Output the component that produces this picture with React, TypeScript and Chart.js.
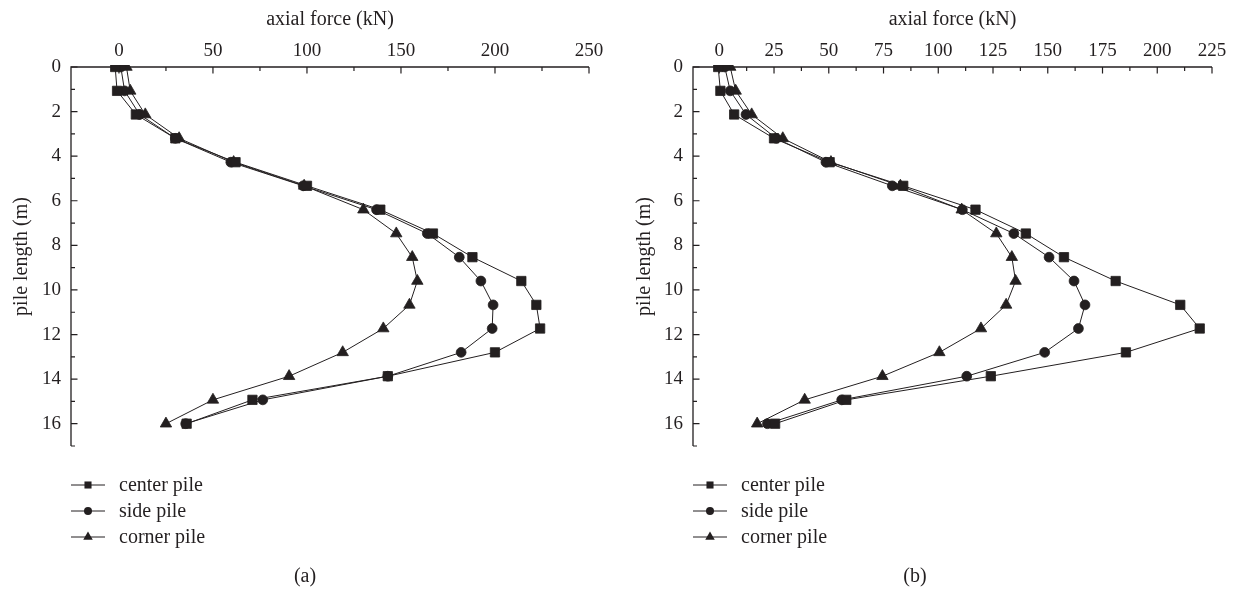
import React, { useEffect, useRef } from 'react';
import { Chart, registerables } from 'chart.js';

Chart.register(...registerables);

// ---------- data ----------
const depths = [0, 1.07, 2.13, 3.2, 4.27, 5.33, 6.4, 7.47, 8.53, 9.6, 10.67, 11.73, 12.8, 13.87, 14.93, 16];

const leftCenter = [-2, -1, 9, 30, 62, 100, 139, 167, 188, 214, 222, 224, 200, 143, 71, 36];
const leftSide = [1, 3, 11, 30, 59.5, 98, 137, 164, 181, 192.5, 199, 198.5, 182, 143, 76.5, 35.5];
const leftCorner = [4, 6, 14, 32, 61, 98.5, 130, 147.5, 156, 158.7, 154.5, 140.6, 119, 90.5, 50, 25];

const rightCenter = [-0.5, 0.5, 6.8, 25, 50.4, 84, 117, 140, 157.4, 181, 210.5, 219.4, 185.7, 124, 58, 25.5];
const rightSide = [2.5, 5, 12.2, 26, 48.7, 79, 111, 134.5, 150.6, 162, 167, 164, 148.6, 113, 55.9, 22];
const rightCorner = [5, 7.5, 14.8, 29, 51, 82.7, 110.7, 126.5, 133.6, 135.3, 131, 119.5, 100.5, 74.5, 39, 17.3];

const seriesNames = ['center pile', 'side pile', 'corner pile'];

const leftXTicks = [0, 50, 100, 150, 200, 250];
const leftXMinor = [25, 75, 125, 175, 225];
const rightXTicks = [0, 25, 50, 75, 100, 125, 150, 175, 200, 225];
const rightXMinor = [12.5, 37.5, 62.5, 87.5, 112.5, 137.5, 162.5, 187.5, 212.5];
const yTicks = [0, 2, 4, 6, 8, 10, 12, 14, 16];
const yMinor = [1, 3, 5, 7, 9, 11, 13, 15, 17];

const xTitle = 'axial force (kN)';
const yTitle = 'pile length (m)';

// ---------- style ----------
const INK = '#231f20';
const FONT = "'Liberation Serif', 'Times New Roman', serif";
const CANVAS_W = 618;
const CANVAS_H = 591;

type PanelCfg = {
  offset: number;
  values: number[][];
  xMin: number;
  xMax: number;
  xTicks: number[];
  xMinor: number[];
  yAxisWidth: number;
  yTitlePad: number;
  rightPad: number;
  caption: string;
  captionX: number;
};

const styles = [
  { pointStyle: 'rect', radius: 6.6, legendR: 5 },
  { pointStyle: 'circle', radius: 4.9, legendR: 4 },
  { pointStyle: 'triangle', radius: 6.6, legendR: 5.5 },
];

function drawMarker(ctx: CanvasRenderingContext2D, style: string, x: number, y: number, r: number) {
  ctx.beginPath();
  if (style === 'rect') {
    const s = Math.SQRT1_2 * r;
    ctx.rect(x - s, y - s, 2 * s, 2 * s);
  } else if (style === 'circle') {
    ctx.arc(x, y, r, 0, Math.PI * 2);
  } else {
    ctx.moveTo(x, y - r);
    ctx.lineTo(x + Math.sin((2 * Math.PI) / 3) * r, y + 0.5 * r);
    ctx.lineTo(x - Math.sin((2 * Math.PI) / 3) * r, y + 0.5 * r);
    ctx.closePath();
  }
  ctx.fill();
}

function makeDecor(cfg: PanelCfg) {
  return {
    id: 'decor',
    beforeDatasetsDraw(chart: any) {
      const { ctx, chartArea: a, scales } = chart;
      const x = scales.x;
      const y = scales.y;
      ctx.save();
      ctx.strokeStyle = INK;
      ctx.lineWidth = 1.3;
      ctx.beginPath();
      ctx.moveTo(a.left, a.bottom);
      ctx.lineTo(a.left, a.top);
      ctx.lineTo(a.right, a.top);
      ctx.stroke();
      ctx.lineWidth = 1.2;
      ctx.beginPath();
      cfg.xTicks.forEach((v) => {
        const px = x.getPixelForValue(v);
        ctx.moveTo(px, a.top);
        ctx.lineTo(px, a.top + 6.5);
      });
      cfg.xMinor.forEach((v) => {
        const px = x.getPixelForValue(v);
        ctx.moveTo(px, a.top);
        ctx.lineTo(px, a.top + 4);
      });
      yTicks.forEach((v) => {
        const py = y.getPixelForValue(v);
        ctx.moveTo(a.left, py);
        ctx.lineTo(a.left + 6.5, py);
      });
      yMinor.forEach((v) => {
        const py = y.getPixelForValue(v);
        ctx.moveTo(a.left, py);
        ctx.lineTo(a.left + 4, py);
      });
      ctx.stroke();
      ctx.restore();
    },
    afterDraw(chart: any) {
      const { ctx, chartArea: a } = chart;
      ctx.save();
      const rows = [485, 511, 537];
      chart.data.datasets.forEach((ds: any, i: number) => {
        const ry = rows[i];
        const x0 = a.left;
        ctx.strokeStyle = INK;
        ctx.lineWidth = 1;
        ctx.beginPath();
        ctx.moveTo(x0, ry);
        ctx.lineTo(x0 + 34, ry);
        ctx.stroke();
        ctx.fillStyle = INK;
        drawMarker(ctx, styles[i].pointStyle, x0 + 17, ry, styles[i].legendR);
        ctx.font = `20px ${FONT}`;
        ctx.textAlign = 'left';
        ctx.textBaseline = 'alphabetic';
        ctx.fillText(ds.label, x0 + 48, ry + 6);
      });
      ctx.font = `20px ${FONT}`;
      ctx.textAlign = 'center';
      ctx.textBaseline = 'alphabetic';
      ctx.fillStyle = INK;
      ctx.fillText(cfg.caption, cfg.captionX, 582);
      ctx.restore();
    },
  };
}

function Panel({ cfg }: { cfg: PanelCfg }) {
  const ref = useRef<HTMLCanvasElement>(null);
  useEffect(() => {
    const canvas = ref.current;
    if (!canvas) return;
    const datasets = cfg.values.map((vals, i) => ({
      label: seriesNames[i],
      data: depths.map((d, k) => ({ x: vals[k], y: d })),
      showLine: true,
      borderColor: INK,
      borderWidth: 1,
      backgroundColor: INK,
      pointBackgroundColor: INK,
      pointBorderColor: INK,
      pointBorderWidth: 0.8,
      pointStyle: styles[i].pointStyle,
      pointRadius: styles[i].radius,
      tension: 0,
      clip: { left: 8, top: 2, right: 8, bottom: 8 },
    }));
    const chart = new Chart(canvas, {
      type: 'scatter',
      data: { datasets },
      options: {
        animation: false,
        responsive: false,
        devicePixelRatio: 1,
        layout: { padding: { left: 0, top: 0, right: cfg.rightPad, bottom: CANVAS_H - 446 } },
        plugins: { legend: { display: false }, tooltip: { enabled: false } },
        scales: {
          x: {
            type: 'linear',
            position: 'top',
            min: cfg.xMin,
            max: cfg.xMax,
            afterBuildTicks: (s: any) => {
              s.ticks = cfg.xTicks.map((v) => ({ value: v }));
            },
            afterFit: (s: any) => {
              s.height = 67;
            },
            grid: { display: false, drawTicks: false },
            border: { display: false },
            ticks: {
              color: INK,
              font: { family: FONT, size: 19 },
              padding: 5,
              maxRotation: 0,
              autoSkip: false,
              callback: (v: any) => String(v),
            },
            title: {
              display: true,
              text: xTitle,
              color: INK,
              font: { family: FONT, size: 20 },
              padding: { top: 8, bottom: 0 },
            },
          },
          y: {
            type: 'linear',
            reverse: true,
            min: 0,
            max: 17,
            afterBuildTicks: (s: any) => {
              s.ticks = yTicks.map((v) => ({ value: v }));
            },
            afterFit: (s: any) => {
              s.width = cfg.yAxisWidth;
            },
            grid: { display: false, drawTicks: false },
            border: { display: false },
            ticks: {
              color: INK,
              font: { family: FONT, size: 19 },
              padding: 10,
              autoSkip: false,
              callback: (v: any) => String(v),
            },
            title: {
              display: true,
              text: yTitle,
              color: INK,
              font: { family: FONT, size: 20 },
              padding: { top: cfg.yTitlePad, bottom: 0 },
            },
          },
        },
      } as any,
      plugins: [makeDecor(cfg)],
    });
    return () => chart.destroy();
  }, [cfg]);
  return (
    <canvas
      ref={ref}
      width={CANVAS_W}
      height={CANVAS_H}
      style={{ position: 'absolute', left: cfg.offset, top: 0, width: CANVAS_W, height: CANVAS_H }}
    />
  );
}

const leftCfg: PanelCfg = {
  offset: 0,
  values: [leftCenter, leftSide, leftCorner],
  xMin: -25.5,
  xMax: 250,
  xTicks: leftXTicks,
  xMinor: leftXMinor,
  yAxisWidth: 71,
  yTitlePad: 10,
  rightPad: CANVAS_W - 589,
  caption: '(a)',
  captionX: 305,
};

const rightCfg: PanelCfg = {
  offset: 618,
  values: [rightCenter, rightSide, rightCorner],
  xMin: -12,
  xMax: 225,
  xTicks: rightXTicks,
  xMinor: rightXMinor,
  yAxisWidth: 75,
  yTitlePad: 15,
  rightPad: CANVAS_W - (1212 - 618),
  caption: '(b)',
  captionX: 915 - 618,
};

export default function App() {
  return (
    <div style={{ position: 'absolute', left: 0, top: 0, width: 1236, height: 591, background: '#fff' }}>
      <Panel cfg={leftCfg} />
      <Panel cfg={rightCfg} />
    </div>
  );
}
